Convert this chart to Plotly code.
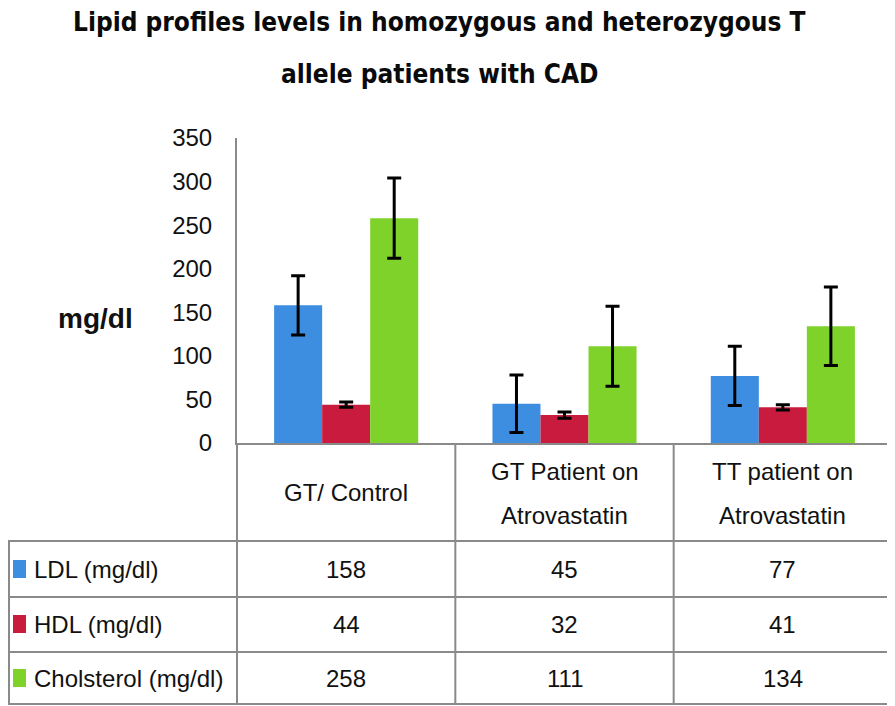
import plotly.graph_objects as go

# ---- data ----
categories = ["GT/ Control", "GT Patient on Atrovastatin", "TT patient on Atrovastatin"]
header_lines = [["GT/ Control"], ["GT Patient on", "Atrovastatin"], ["TT patient on", "Atrovastatin"]]
series_names = ["LDL (mg/dl)", "HDL (mg/dl)", "Cholsterol (mg/dl)"]
ldl = [158, 45, 77]
hdl = [44, 32, 41]
chol = [258, 111, 134]
ldl_err = [34, 33, 34]
hdl_err = [3, 3.5, 3]
chol_err = [46, 46, 45]
y_ticks = [0, 50, 100, 150, 200, 250, 300, 350]

colors = ["#3d8ee0", "#c81b3d", "#7ed22a"]

# ---- layout geometry (page pixels; the page body adds an 8px offset) ----
OFF = 8
W, H = 895 - OFF, 706 - OFF
L, R, T, B = 237 - OFF, 892 - OFF, 138 - OFF, 443 - OFF


def px(x):
    return (x - OFF - L) / (R - L)


def py(y):
    return (B - (y - OFF)) / (B - T)


FONT = "Liberation Sans, Arial, sans-serif"
GRID = "#8a8a8a"
TXT = "#111111"

fig = go.Figure()
for name, vals, errs, col in zip(series_names, [ldl, hdl, chol], [ldl_err, hdl_err, chol_err], colors):
    fig.add_trace(go.Bar(
        x=categories, y=vals, name=name, marker=dict(color=col, line=dict(width=0)),
        error_y=dict(type="data", array=errs, visible=True, color="black", thickness=3, width=7),
    ))

shapes = []
annotations = []
line = dict(color=GRID, width=2)

# horizontal table lines
for y in [541, 597, 652, 704]:
    shapes.append(dict(type="line", xref="paper", yref="paper", x0=px(8), x1=px(893), y0=py(y), y1=py(y), line=line))
# vertical table lines
for xv in [0.5, 1.5, 2.5]:
    shapes.append(dict(type="line", xref="x", yref="paper", x0=xv, x1=xv, y0=0, y1=py(704), line=line))
shapes.append(dict(type="line", xref="paper", yref="paper", x0=0, x1=0, y0=0, y1=py(704), line=line))
shapes.append(dict(type="line", xref="paper", yref="paper", x0=px(9), x1=px(9), y0=py(541), y1=py(704), line=line))

# header texts
for i, lines in enumerate(header_lines):
    ys = [492] if len(lines) == 1 else [471, 515]
    for txt, yy in zip(lines, ys):
        annotations.append(dict(x=categories[i], xref="x", y=py(yy), yref="paper", text=txt, showarrow=False,
                                font=dict(size=24, color=TXT, family=FONT), xanchor="center", yanchor="middle"))

# row labels and values
row_y = [569, 624, 678]
for r, (name, vals, col) in enumerate(zip(series_names, [ldl, hdl, chol], colors)):
    shapes.append(dict(type="rect", xref="paper", yref="paper", x0=px(13), x1=px(26), y0=py(row_y[r] - 9), y1=py(row_y[r] + 9),
                       fillcolor=col, line=dict(width=0)))
    annotations.append(dict(x=px(32), xref="paper", y=py(row_y[r]), yref="paper", text=name, showarrow=False,
                            font=dict(size=24, color=TXT, family=FONT), xanchor="left", yanchor="middle"))
    for i, v in enumerate(vals):
        annotations.append(dict(x=categories[i], xref="x", y=py(row_y[r]), yref="paper", text=str(v), showarrow=False,
                                font=dict(size=24, color=TXT, family=FONT), xanchor="center", yanchor="middle"))

# y-axis title
annotations.append(dict(x=px(95), xref="paper", y=py(318), yref="paper", text="<b>mg/dl</b>", showarrow=False,
                        font=dict(size=28, color=TXT, family=FONT), xanchor="center", yanchor="middle"))

# title lines
for txt, yy in [("Lipid profiles levels in homozygous and heterozygous T", 22), ("allele patients with CAD", 74)]:
    annotations.append(dict(x=px(439), xref="paper", y=py(yy), yref="paper", text="<b>" + txt + "</b>",
                            showarrow=False, font=dict(size=26, color="#0a0a0a", family="DejaVu Sans Condensed, sans-serif"),
                            xanchor="center", yanchor="middle"))

fig.update_layout(
    width=W, height=H,
    margin=dict(l=L, r=W - R, t=T, b=H - B),
    paper_bgcolor="white", plot_bgcolor="white",
    barmode="group", bargap=0.34, bargroupgap=0,
    showlegend=False,
    xaxis=dict(showticklabels=False, ticks="", showline=True, linecolor=GRID, linewidth=2, showgrid=False,
               zeroline=False, range=[-0.5, 2.5], fixedrange=True),
    yaxis=dict(range=[0, 350], tickvals=y_ticks, showgrid=False, zeroline=False, showline=True, linecolor=GRID,
               linewidth=2, ticks="", ticklabelstandoff=18,
               tickfont=dict(size=24, color=TXT, family=FONT)),
    shapes=shapes, annotations=annotations,
)

fig.write_html("out.html")
